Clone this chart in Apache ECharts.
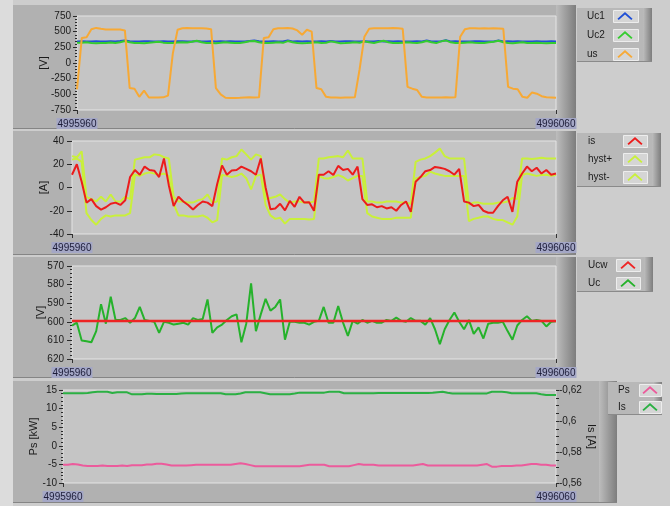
<!DOCTYPE html>
<html>
<head>
<meta charset="utf-8">
<script src="https://cdn.jsdelivr.net/npm/echarts@6/dist/echarts.min.js"></script>
<style>
html, body { margin: 0; padding: 0; background: #cdcdcd; }
#chart { width: 670px; height: 506px; }
</style>
</head>
<body>
<div id="chart"></div>
<script>
// sample counter range shown on every x axis
const xStart = 4995960;
const xEnd = 4996060;

// panel 1: capacitor voltages and output voltage [V]
const uc1 = [344, 346, 345, 344, 346, 345, 344, 346, 345, 352,
  360, 348, 345, 344, 346, 347, 345, 345, 346, 345,
  344, 346, 347, 345, 345, 352, 345, 344, 346, 345,
  347, 345, 346, 345, 344, 345, 352, 358, 346, 345,
  345, 346, 345, 344, 360, 345, 346, 345, 347, 345,
  344, 346, 345, 350, 345, 344, 346, 347, 345, 345,
  346, 345, 344, 350, 345, 346, 345, 347, 345, 344,
  345, 346, 345, 358, 345, 344, 346, 362, 345, 346,
  345, 344, 345, 347, 346, 345, 344, 345, 360, 345,
  346, 345, 347, 345, 344, 345, 346, 345, 344, 346,
  345];
const uc2 = [322, 325, 330, 318, 316, 318, 320, 326, 318, 330,
  350, 330, 320, 318, 316, 322, 330, 340, 325, 318,
  320, 326, 330, 328, 340, 355, 330, 318, 320, 316,
  322, 330, 325, 320, 318, 330, 348, 352, 330, 320,
  318, 325, 330, 322, 350, 330, 318, 316, 320, 325,
  330, 318, 322, 345, 330, 316, 318, 325, 330, 322,
  345, 330, 318, 340, 355, 330, 320, 318, 325, 330,
  322, 318, 330, 352, 330, 318, 345, 360, 330, 320,
  318, 325, 330, 322, 318, 320, 330, 340, 355, 330,
  318, 316, 325, 330, 318, 320, 322, 318, 316, 318,
  320];
const us = [-420, 400, 410, 540, 560, 545, 535, 535, 535, 535,
  520, -400, -410, -540, -440, -550, -550, -550, -548, -520,
  150, 530, 555, 560, 555, 555, 555, 550, 540, -400,
  -500, -555, -560, -558, -555, -550, -545, -550, -548, 400,
  410, 540, 555, 555, 560, 550, 520, 450, 530, 500,
  -400, -420, -540, -550, -552, -555, -550, -550, -548, -100,
  420, 545, 555, 555, 553, 555, 560, 555, 545, -380,
  -410, -430, -540, -550, -552, -550, -550, -548, -550, -545,
  420, 540, 555, 555, 552, 555, 550, 555, 552, 545,
  -380, -410, -420, -540, -555, -470, -490, -530, -545, -550,
  -555];

// panel 2: load current and hysteresis band [A]
const is = [11, 20, 5, -13, -10, -16, -19, -17, -14, -13,
  -15, -11, 9, 15, 11, 18, 15, 14.5, 9, 25,
  2, -16, -8, -12, -15, -19, -15, -12, -13, -16,
  3, 19, 11, 14.6, 15, 18, 16, 14, 11, 25,
  0, -18.8, -18, -14, -19.7, -11.6, -16.6, -8, -13, -12.6,
  -20, 11, 11, 14, 10.7, 18.6, 15, 16, 11, 18,
  -10, -15, -14.5, -17, -16, -18, -17, -20, -15, -12,
  -21, 5, 9, 14, 15, 17.7, 17, 16, 14, 11,
  16, -12, -13, -16, -15, -20, -21.7, -21.7, -16, -11,
  -8, -21, 5, 12, 18, 14, 17, 12, 15, 11,
  12];
const hystPlus = [27, 26, 31, -8, -10, -12, -8, -12, -6, -12,
  -12, -8, -10, 24, 25, 26, 26, 28.5, 28, 26,
  25, -8, -12, -12, -13, -13, -11, -10, -6, -13,
  -12, 25, 24, 26, 27, 32.7, 28.5, 24, 28.5, 27,
  -10, -9, -8, -6, -10, -13, -12, -12, -13, -13,
  -12, 25, 25, 26, 26.5, 27, 26, 31.8, 25, 25,
  25, -12, -12, -13, -13, -12, -12, -12, -13, -13,
  -14, 22, 24, 25, 27, 30, 33.6, 27, 25, 25,
  25, 25, -14.5, -13, -13, -14, -14, -14, -13, -13,
  -12, -9, -10, 25, 25, 24.5, 25, 25.5, 25, 25,
  25];
const hystMinus = [24, 25, 22, -22, -28, -32, -27, -24, -25, -24,
  -24, -24, -22, 11, 10, 12, 13, 12, 11, 12,
  10, -14, -24, -24, -25, -25, -25, -24, -26, -30,
  -28, 10.7, 10, 9, 10, 12, 8, -1.7, 10, 11,
  -15, -24, -27, -26, -31, -27, -27, -27, -27, -27.5,
  -27, 10, 8, 7.8, 9, 10.7, 9, 6, 8, 10,
  10, -22, -25, -26, -27, -27, -27, -26, -26, -26,
  -26, 7.8, 9, 10, 13.6, 12, 11, 10, 10, 10,
  10, 10, -29, -27, -26, -25, -25, -27, -28, -28,
  -30, -32, -25, 10.7, 12, 11, 10, 10.7, 11, 10,
  10.7];

// panel 3: DC-link voltage and its reference [V]
const ucw = [599.6, 599.6, 599.6, 599.6, 599.6, 599.6, 599.6, 599.6, 599.6, 599.6,
  599.6, 599.6, 599.6, 599.6, 599.6, 599.6, 599.6, 599.6, 599.6, 599.6,
  599.6, 599.6, 599.6, 599.6, 599.6, 599.6, 599.6, 599.6, 599.6, 599.6,
  599.6, 599.6, 599.6, 599.6, 599.6, 599.6, 599.6, 599.6, 599.6, 599.6,
  599.6, 599.6, 599.6, 599.6, 599.6, 599.6, 599.6, 599.6, 599.6, 599.6,
  599.6, 599.6, 599.6, 599.6, 599.6, 599.6, 599.6, 599.6, 599.6, 599.6,
  599.6, 599.6, 599.6, 599.6, 599.6, 599.6, 599.6, 599.6, 599.6, 599.6,
  599.6, 599.6, 599.6, 599.6, 599.6, 599.6, 599.6, 599.6, 599.6, 599.6,
  599.6, 599.6, 599.6, 599.6, 599.6, 599.6, 599.6, 599.6, 599.6, 599.6,
  599.6, 599.6, 599.6, 599.6, 599.6, 599.6, 599.6, 599.6, 599.6, 599.6,
  599.6];
const uc = [602, 600.5, 610, 610.5, 611, 605, 590.5, 601, 586.5, 599,
  599, 598, 600.5, 598, 592, 599, 599.5, 600, 606, 600,
  600.5, 601.5, 601, 600.5, 601.5, 598, 599, 598.5, 588, 606,
  603, 601.5, 599, 597, 596, 611, 601, 579.3, 605, 596,
  587.7, 594, 592, 588, 609.6, 600, 600, 600.5, 600.5, 601.5,
  600, 599.5, 592, 600.5, 600.5, 591.5, 600.4, 607.6, 599.5, 601,
  599, 600.5, 599.5, 600.5, 600.5, 599, 599.5, 597.8, 599.5, 600,
  598, 599.5, 599.5, 601.5, 598, 604, 612, 604, 599, 595,
  600, 604, 599, 606.5, 603, 609, 601, 600.5, 600.5, 600,
  605, 609.6, 602, 599, 597, 599.5, 599, 599.5, 602.5, 600,
  599.7];

// panel 4: power [kW] and current [A]
const ps = [-5.1, -5.1, -4.9, -5.0, -5.3, -5.4, -5.4, -5.4, -5.3, -5.4,
  -5.4, -5.4, -5.3, -5.4, -5.2, -5.2, -5.2, -5.0, -5.0, -4.8,
  -4.8, -5.0, -5.3, -5.3, -5.3, -5.3, -5.2, -5.1, -5.1, -5.1,
  -5.1, -5.1, -5.1, -5.1, -5.1, -4.9, -4.7, -4.9, -5.2, -5.5,
  -5.5, -5.5, -5.5, -5.5, -5.5, -5.5, -5.5, -5.5, -5.5, -5.3,
  -5.1, -5.1, -5.1, -5.1, -5.5, -5.5, -5.5, -5.5, -5.5, -5.2,
  -4.9, -5.1, -5.1, -5.1, -5.3, -5.3, -5.3, -5.3, -5.3, -5.3,
  -5.3, -5.3, -5.1, -4.9, -5.3, -5.3, -5.3, -5.3, -5.3, -5.3,
  -5.3, -5.3, -5.3, -5.3, -5.3, -5.1, -4.9, -5.6, -5.6, -5.4,
  -5.4, -5.4, -5.3, -5.3, -5.1, -4.9, -4.9, -5.1, -5.1, -5.3,
  -5.3];
const isDc = [-0.6179, -0.6179, -0.6179, -0.6179, -0.6179, -0.6181, -0.6186, -0.6189, -0.6189, -0.6189,
  -0.6181, -0.6185, -0.6185, -0.6185, -0.6172, -0.6172, -0.6172, -0.6176, -0.6176, -0.6174,
  -0.6174, -0.6174, -0.6174, -0.6174, -0.6177, -0.6179, -0.6179, -0.6179, -0.6179, -0.6179,
  -0.6179, -0.6179, -0.6179, -0.6172, -0.6172, -0.6172, -0.6178, -0.6185, -0.6185, -0.6185,
  -0.6185, -0.6179, -0.6172, -0.6172, -0.6172, -0.6172, -0.6172, -0.6177, -0.6183, -0.6183,
  -0.6183, -0.6183, -0.6183, -0.6183, -0.6189, -0.6189, -0.6189, -0.6179, -0.6179, -0.6179,
  -0.6179, -0.6179, -0.6179, -0.6179, -0.6180, -0.6180, -0.6180, -0.6180, -0.6180, -0.6180,
  -0.6180, -0.6180, -0.6180, -0.6180, -0.6180, -0.6182, -0.6186, -0.6189, -0.6182, -0.6178,
  -0.6178, -0.6178, -0.6178, -0.6178, -0.6178, -0.6178, -0.6178, -0.6189, -0.6189, -0.6189,
  -0.6186, -0.6179, -0.6179, -0.6179, -0.6179, -0.6179, -0.6179, -0.6173, -0.6168, -0.6168,
  -0.6168];

// tick labels
const yTicks1 = { min: -750, max: 750, step: 250 };
const yTicks2 = { min: -40, max: 40, step: 20 };
const yTicks3 = { min: 570, max: 620, step: 10 };
const yTicks4 = { min: -10, max: 15, step: 5 };
const yTicks4r = { min: -0.62, max: -0.56, step: 0.02 };

const FONT = 'Liberation Sans';
const TXT = '#1b1b1b';

function toPairs(arr) { return arr.map((v, i) => [xStart + i, v]); }

function xAxisFor(gi) {
  return {
    type: 'value', gridIndex: gi, min: xStart, max: xEnd,
    axisLine: { show: false, onZero: false }, splitLine: { show: false },
    axisTick: { show: true, customValues: [xStart, xEnd], length: 4, lineStyle: { color: '#333' } },
    axisLabel: {
      customValues: [xStart, xEnd], showMinLabel: true, showMaxLabel: true,
      color: '#1c1c38', fontSize: 10, fontFamily: FONT,
      backgroundColor: '#a4a7c6', padding: [1, 1, 0, 1], margin: 8,
      formatter: v => String(v)
    }
  };
}

function yAxisFor(gi, t, opts) {
  return Object.assign({
    type: 'value', gridIndex: gi, min: t.min, max: t.max, interval: t.step,
    axisLine: { show: false, onZero: false }, splitLine: { show: false },
    axisTick: { show: true, length: 4, lineStyle: { color: '#2a2a2a' } },
    minorTick: { show: true, splitNumber: 5, length: 2, lineStyle: { color: '#2a2a2a' } },
    axisLabel: { color: TXT, fontSize: 10, fontFamily: FONT, margin: 6 },
    nameLocation: 'middle', nameRotate: 90, nameMoveOverlap: false,
    nameTextStyle: { color: TXT, fontSize: 11, fontFamily: FONT }
  }, opts);
}

function line(name, xi, yi, data, color, w, z) {
  return {
    name, type: 'line', xAxisIndex: xi, yAxisIndex: yi, data: toPairs(data),
    showSymbol: false, symbol: 'none', z: z || 2,
    lineStyle: { color, width: w || 2 }, itemStyle: { color }
  };
}

const chevron = 'path://M0,9 L10,0 L20,9 L18.3,10.6 L10,3.2 L1.7,10.6 Z';

function legendFor(names, left, top, textW, gap) {
  return {
    data: names, left, top, orient: 'vertical', align: 'right',
    itemWidth: 18, itemHeight: 8, itemGap: gap, padding: 0,
    selectedMode: false, icon: chevron, z: 20,
    formatter: n => '{t|' + n + '}',
    textStyle: { color: TXT, fontSize: 10, fontFamily: FONT,
      rich: { t: { width: textW, align: 'left', fontSize: 10, fontFamily: FONT, color: TXT } } }
  };
}

// decorative panel frames
const darkRight = () => ({ type: 'linear', x: 0, y: 0, x2: 1, y2: 0,
  colorStops: [{ offset: 0, color: '#bdbdbd' }, { offset: 1, color: '#7d7d7d' }] });

function panelFrame(x, y, w, h, stripX) {
  return [
    { type: 'rect', z: -10, silent: true, shape: { x, y, width: w, height: h }, style: { fill: '#b1b1b1' } },
    { type: 'rect', z: -9, silent: true, shape: { x: stripX, y, width: x + w - stripX, height: h }, style: { fill: darkRight() } },
    { type: 'line', z: -8, silent: true, shape: { x1: x, y1: y + h - 0.5, x2: x + w, y2: y + h - 0.5 }, style: { stroke: '#858585', lineWidth: 1 } }
  ];
}
function legendFrame(x, y, w, h) {
  return [
    { type: 'rect', z: -6, silent: true, shape: { x, y, width: w, height: h }, style: { fill: '#b8b8b8' } },
    { type: 'rect', z: -5, silent: true, shape: { x: x + w - 9, y, width: 9, height: h }, style: { fill: darkRight() } },
    { type: 'line', z: -4, silent: true, shape: { x1: x, y1: y + h - 0.5, x2: x + w, y2: y + h - 0.5 }, style: { stroke: '#8a8a8a', lineWidth: 1 } }
  ];
}
function swatch(x, cy, w) {
  return { type: 'rect', z: -3, silent: true, shape: { x: x + 0.5, y: cy - 6 + 0.5, width: w, height: 12 },
    style: { fill: '#d5d5d5', stroke: '#ededed', lineWidth: 1 } };
}

const graphics = [].concat(
  [{ type: 'rect', z: -11, silent: true, shape: { x: 0, y: 0, width: 13, height: 506 }, style: { fill: '#dcdcdc' } }],
  panelFrame(13, 5, 563, 124, 556),
  panelFrame(13, 131, 563, 124, 556),
  panelFrame(13, 257, 563, 121, 556),
  panelFrame(13, 381, 604, 122, 599),
  legendFrame(577, 8, 75, 54),
  legendFrame(577, 133, 84, 54),
  legendFrame(577, 257, 76, 35),
  legendFrame(608, 382, 54, 33),
  [swatch(613, 16, 25), swatch(613, 35, 25), swatch(613, 54, 25),
   swatch(623, 141, 24), swatch(623, 159, 24), swatch(623, 177, 24),
   swatch(616, 265, 24), swatch(616, 283, 24),
   swatch(639, 390, 22), swatch(639, 407, 22)]
);

const gridStyle = { show: true, backgroundColor: '#c5c5c5', borderColor: '#e4e4e4', borderWidth: 1 };

const option = {
  backgroundColor: '#cdcdcd',
  animation: false,
  graphic: graphics,
  grid: [
    Object.assign({ left: 77, top: 16, width: 479, height: 94 }, gridStyle),
    Object.assign({ left: 72, top: 141, width: 484, height: 93 }, gridStyle),
    Object.assign({ left: 72, top: 266, width: 484, height: 93 }, gridStyle),
    Object.assign({ left: 63, top: 390, width: 493, height: 93 }, gridStyle)
  ],
  xAxis: [xAxisFor(0), xAxisFor(1), xAxisFor(2), xAxisFor(3)],
  yAxis: [
    yAxisFor(0, yTicks1, { name: '[V]', nameGap: 28 }),
    yAxisFor(1, yTicks2, { name: '[A]', nameGap: 23, minorTick: { show: false },
      axisTick: { show: true, length: 5, lineStyle: { color: '#2a2a2a' } },
      axisLabel: { color: TXT, fontSize: 10, fontFamily: FONT, margin: 8 } }),
    yAxisFor(2, yTicks3, { name: '[V]', nameGap: 26, inverse: true,
      axisTick: { show: true, length: 5, lineStyle: { color: '#2a2a2a' } },
      axisLabel: { color: TXT, fontSize: 10, fontFamily: FONT, margin: 8 } }),
    yAxisFor(3, yTicks4, { name: 'Ps [kW]', nameGap: 24 }),
    yAxisFor(3, yTicks4r, { name: 'Is [A]', nameGap: 30, position: 'right', nameRotate: -90, inverse: true,
      axisTick: { show: true, length: 3, lineStyle: { color: '#2a2a2a' } },
      minorTick: { show: true, splitNumber: 4, length: 3, lineStyle: { color: '#2a2a2a' } },
      axisLabel: { color: TXT, fontSize: 10, fontFamily: FONT, margin: 3,
        formatter: v => String(+v.toFixed(2)).replace('.', ',') } })
  ],
  legend: [
    legendFor(['Uc1', 'Uc2', 'us'], 587, 11, 24, 9),
    legendFor(['is', 'hyst+', 'hyst-'], 588, 136, 33, 8),
    legendFor(['Ucw', 'Uc'], 588, 260, 26, 8),
    legendFor(['Ps', 'Is'], 618, 385, 18, 7)
  ],
  series: [
    line('Uc1', 0, 0, uc1, '#1f4fd6', 2, 2),
    line('Uc2', 0, 0, uc2, '#35cc2f', 2, 3),
    line('us', 0, 0, us, '#f7a935', 2, 4),
    line('hyst+', 1, 1, hystPlus, '#c9f03a', 2, 2),
    line('hyst-', 1, 1, hystMinus, '#c9f03a', 2, 3),
    line('is', 1, 1, is, '#ec1c1c', 2, 4),
    line('Uc', 2, 2, uc, '#25b22b', 2, 2),
    line('Ucw', 2, 2, ucw, '#ee2424', 2.5, 3),
    line('Ps', 3, 3, ps, '#ec5b9c', 2, 2),
    line('Is', 3, 4, isDc, '#2bb043', 2, 3)
  ]
};

const chart = echarts.init(document.getElementById('chart'), null, { renderer: 'canvas' });
chart.setOption(option);
</script>
</body>
</html>
